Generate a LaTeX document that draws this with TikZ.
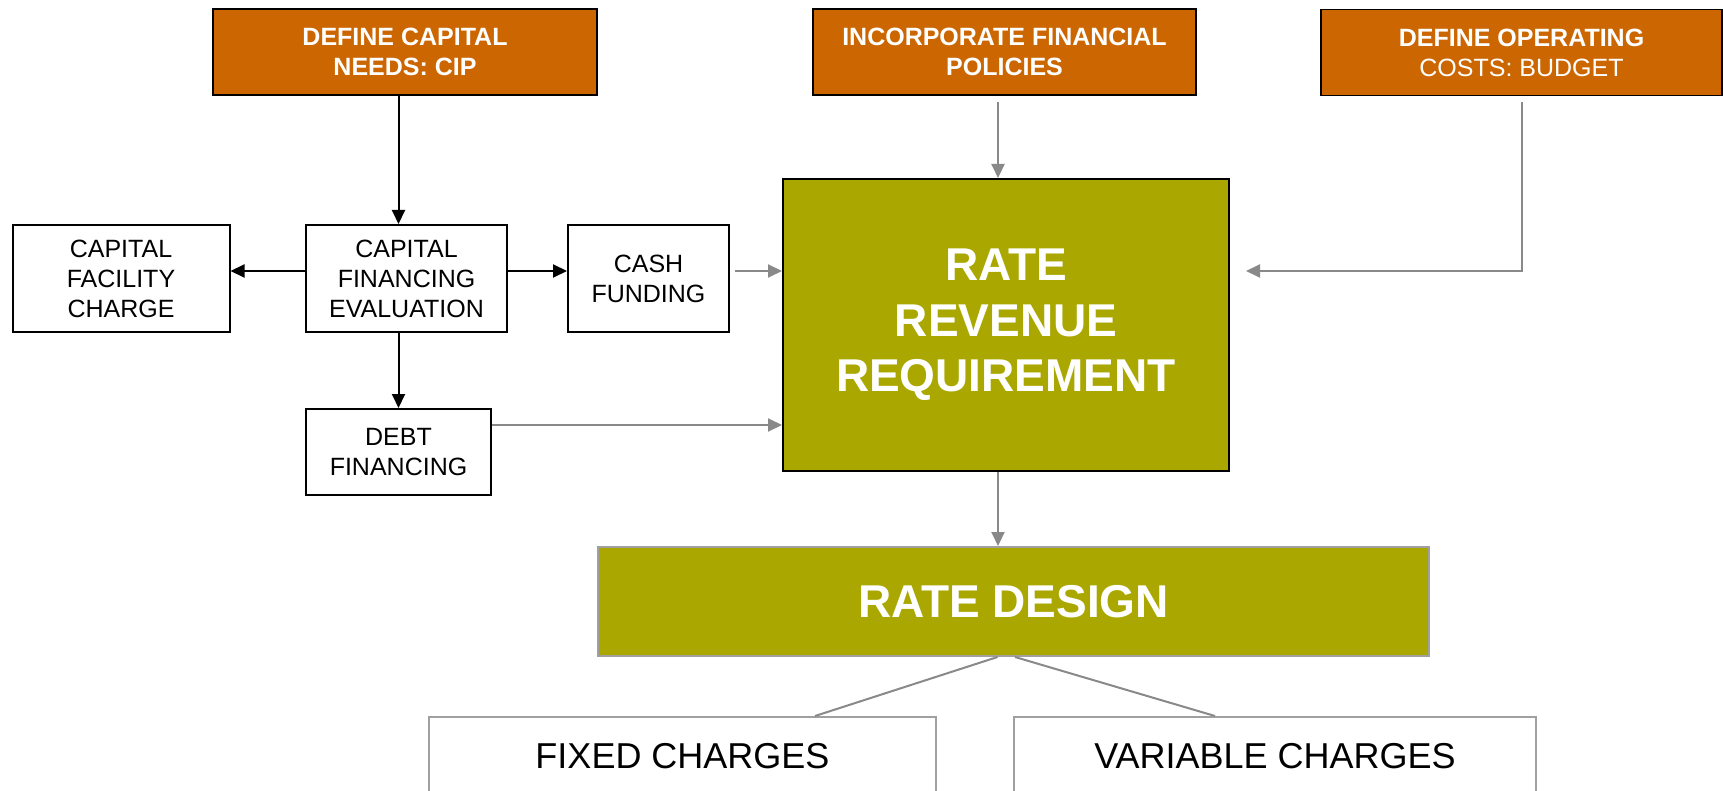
\documentclass[tikz,border=0pt]{standalone}
\usepackage{fontspec}
\setmainfont{Liberation Sans}
\usetikzlibrary{arrows.meta}
\definecolor{burnt}{HTML}{CC6600}
\definecolor{ratecol}{HTML}{AAA800}
\definecolor{arrowgray}{HTML}{898989}
\definecolor{boxgray}{HTML}{A0A0A0}
\begin{document}
\begin{tikzpicture}[x=1pt,y=-1pt,
  topbox/.style={draw=black, line width=1.5pt, fill=burnt, text=white, align=center, inner sep=0pt, minimum height=86pt, font=\fontsize{25}{30}\selectfont\bfseries},
  smallbox/.style={draw=black, line width=2pt, fill=white, align=center, inner sep=0pt, minimum height=107pt, font=\fontsize{25}{30}\selectfont},
  bigbox/.style={line width=2pt, fill=ratecol, text=white, align=center, inner sep=0pt, font=\fontsize{46}{55.5}\selectfont\bfseries},
  chargebox/.style={draw=boxgray, line width=2pt, fill=white, inner sep=0pt, minimum height=78pt, font=\fontsize{36}{40}\selectfont},
  blkarrow/.style={draw=black, line width=2pt, -{Triangle[length=14pt,width=13pt]}},
  grayarrow/.style={draw=arrowgray, line width=2pt, -{Triangle[length=14pt,width=13pt]}},
  grayline/.style={draw=arrowgray, line width=2pt}]
\useasboundingbox (0,0) rectangle (1723,791);
\clip (0,0) rectangle (1723,791);
% top row
\node[topbox, minimum width=384pt] (cip) at (405,52) {DEFINE CAPITAL\\NEEDS: CIP};
\node[topbox, minimum width=383pt] (pol) at (1004.5,52) {INCORPORATE FINANCIAL\\POLICIES};
\node[topbox, minimum width=401pt] (bud) at (1521.5,52.5) {DEFINE OPERATING\\\mdseries COSTS: BUDGET};
% capital side
\node[smallbox, minimum width=217pt] (cfc) at (121,278.5) {CAPITAL\\FACILITY\\CHARGE};
\node[smallbox, minimum width=201pt] (cfe) at (406.5,278.5) {CAPITAL\\FINANCING\\EVALUATION};
\node[smallbox, minimum width=161pt] (cash) at (648.5,278.5) {CASH\\FUNDING};
\node[smallbox, minimum width=185pt, minimum height=86pt] (debt) at (398.5,452) {DEBT\\FINANCING};
% revenue and design
\node[bigbox, draw=black, minimum width=446pt, minimum height=292pt] (rrr) at (1006,325) {RATE\\REVENUE\\REQUIREMENT};
\node[bigbox, draw=boxgray, minimum width=831pt, minimum height=109pt] (rd) at (1013.5,601.5) {RATE DESIGN};
\node[chargebox, minimum width=507pt] (fix) at (682.5,756) {FIXED CHARGES};
\node[chargebox, minimum width=522pt] (var) at (1275,756) {VARIABLE CHARGES};
\coordinate (bend) at ([yshift=7.5pt]cash.east -| bud.south);
% connectors
\draw[blkarrow] (cip.south -| debt) -- (cfe.north -| debt);
\draw[blkarrow] (cfe.south -| debt) -- (debt.north);
\draw[blkarrow] ([yshift=7.5pt]cfe.west) -- ([yshift=7.5pt]cfc.east);
\draw[blkarrow] ([yshift=7.5pt]cfe.east) -- ([yshift=7.5pt]cash.west);
\draw[grayarrow, shorten <=5pt] ([yshift=7.5pt]cash.east) -- ([yshift=7.5pt]cash.east -| rrr.west);
\draw[grayarrow] ([yshift=27pt]debt.east) -- ([yshift=27pt]debt.east -| rrr.west);
\draw[grayarrow, shorten <=6pt] ([xshift=-6.5pt]pol.south) -- ([xshift=-6.5pt]pol.south |- rrr.north);
\draw[grayarrow, shorten <=6pt, shorten >=16pt] (bud.south) -- (bend) -- (bend -| rrr.east);
\draw[grayarrow] ([xshift=-8pt]rrr.south) -- ([xshift=-8pt]rrr.south |- rd.north);
\draw[grayline] ([xshift=-16pt]rd.south) -- ([xshift=132.5pt]fix.north);
\draw[grayline] ([xshift=1.5pt]rd.south) -- ([xshift=-60pt]var.north);
\end{tikzpicture}
\end{document}
